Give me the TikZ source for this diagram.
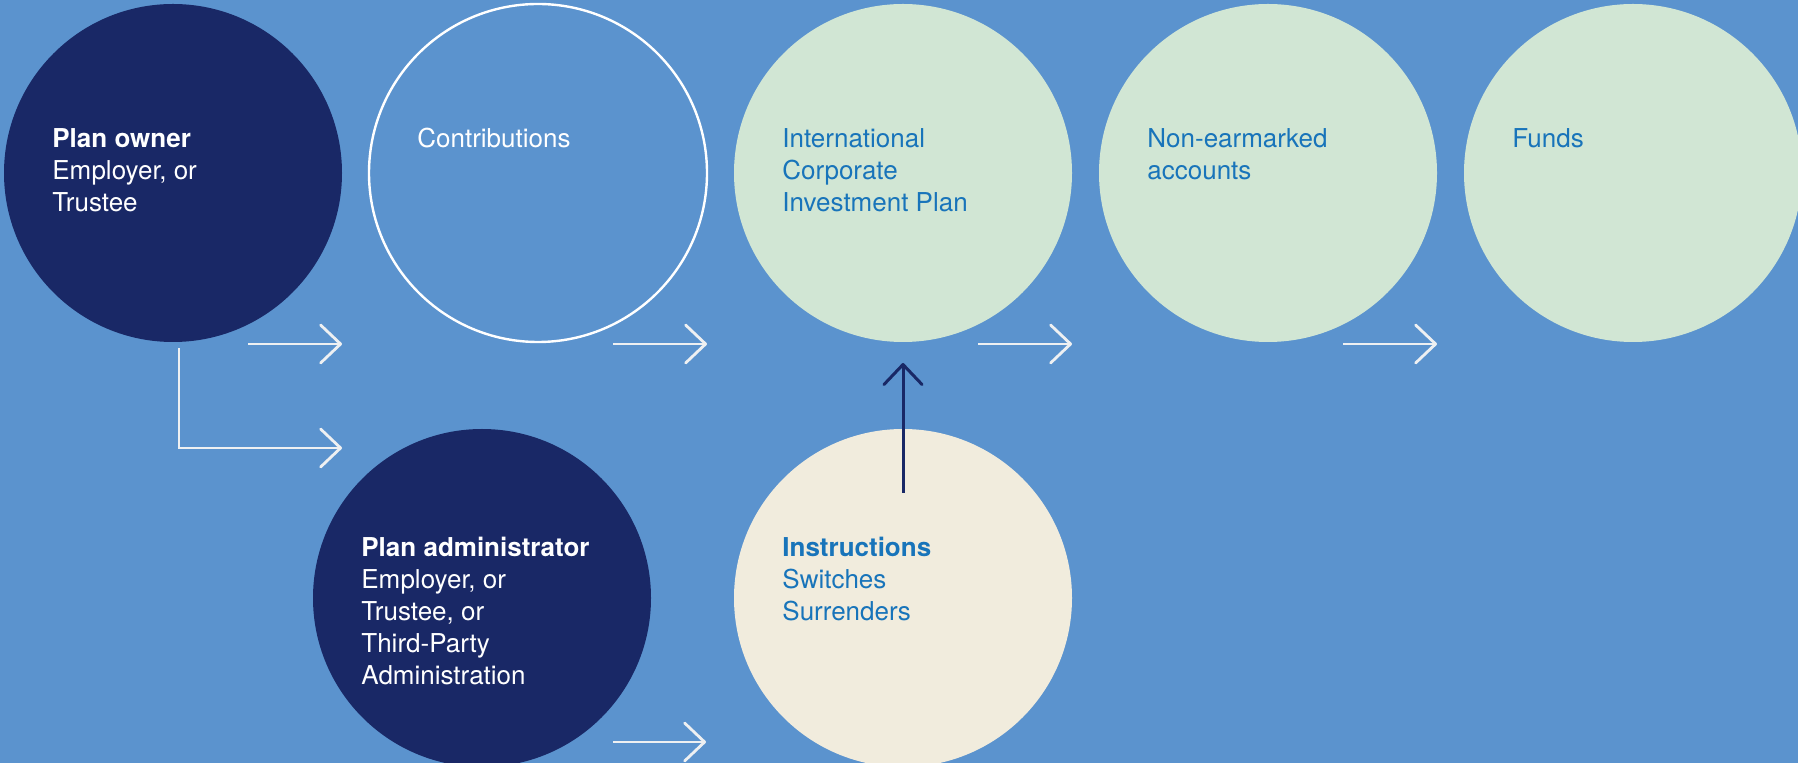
\documentclass[tikz,border=0pt]{standalone}
\usepackage{fontspec}
\setmainfont{TeX Gyre Heros}
\usetikzlibrary{arrows.meta, positioning, calc}

\definecolor{bgblue}{HTML}{5B93CE}
\definecolor{navy}{HTML}{192866}
\definecolor{mint}{HTML}{D1E6D4}
\definecolor{cream}{HTML}{F1ECDD}
\definecolor{textblue}{HTML}{1874BA}
\definecolor{arrowwhite}{HTML}{EEF0F2}

\tikzset{
  disc/.style={circle, minimum size=169pt, inner sep=0pt, outer sep=0pt},
  navydisc/.style={disc, fill=navy},
  ringdisc/.style={disc, draw=white, line width=1.2pt},
  mintdisc/.style={disc, fill=mint},
  creamdisc/.style={disc, fill=cream},
  txt/.style={anchor=north west, align=left, inner sep=0pt, font=\fontsize{13}{16}\selectfont},
  flow/.style={draw=arrowwhite, line width=1.4pt, -{Straight Barb[length=10pt, width=19pt, round]}},
  upflow/.style={draw=navy, line width=1.5pt, -{Straight Barb[length=10pt, width=19pt, round]}},
}

\begin{document}
\begin{tikzpicture}[x=0.5pt, y=-0.5pt]

    \useasboundingbox (0,0) rectangle (1798,763);
    \fill[bgblue] (0,0) rectangle (1798,763);

    % Define nodes
    \node (owner) [navydisc] at (173,173) {};
    \node (contrib) [ringdisc, right=13.5pt of owner] {};
    \node (icip) [mintdisc, right=13.5pt of contrib] {};
    \node (accounts) [mintdisc, right=13.5pt of icip] {};
    \node (funds) [mintdisc, right=13.5pt of accounts] {};
    \node (instr) [creamdisc, below=43.5pt of icip] {};
    \node (admin) [navydisc, left=41.5pt of instr] {};

    % Texts
    \node (ownertxt) [txt, text=white] at ($(owner.center)+(-121,-45)$)
        {\textbf{Plan owner}\\Employer, or\\Trustee};
    \node (contribtxt) [txt, text=white] at ($(contrib.center)+(-121,-45)$)
        {Contributions};
    \node (icipetxt) [txt, text=textblue] at ($(icip.center)+(-121,-45)$)
        {International\\Corporate\\Investment Plan};
    \node (accountstxt) [txt, text=textblue] at ($(accounts.center)+(-121,-45)$)
        {Non-earmarked\\accounts};
    \node (fundstxt) [txt, text=textblue] at ($(funds.center)+(-121,-45)$)
        {Funds};
    \node (admintxt) [txt, text=white] at ($(admin.center)+(-121,-61)$)
        {\textbf{Plan administrator}\\Employer, or\\Trustee, or\\Third-Party\\Administration};
    \node (instrtxt) [txt, text=textblue] at ($(instr.center)+(-121,-61)$)
        {\textbf{Instructions}\\Switches\\Surrenders};

    % Draw arrows
    \foreach \c in {owner, contrib, icip, accounts} {
        \coordinate (\c-from) at ($(\c.south)+(75,2)$);
        \coordinate (\c-to) at ($(\c.south)+(169,2)$);
        \draw[flow] (\c-from) -- (\c-to);
    }
    \coordinate (own-down) at ($(owner.south)+(6,6)$);
    \coordinate (own-to) at ($(owner.south)+(169,106)$);
    \draw[flow] (own-down) |- (own-to);

    \coordinate (adm-from) at ($(admin.center)+(131,144)$);
    \coordinate (adm-to) at ($(admin.center)+(224,144)$);
    \draw[flow] (adm-from) -- (adm-to);

    \draw[upflow] ($(instr.center)+(0,-105)$) -- ($(icip.south)+(0,21)$);

\end{tikzpicture}
\end{document}
